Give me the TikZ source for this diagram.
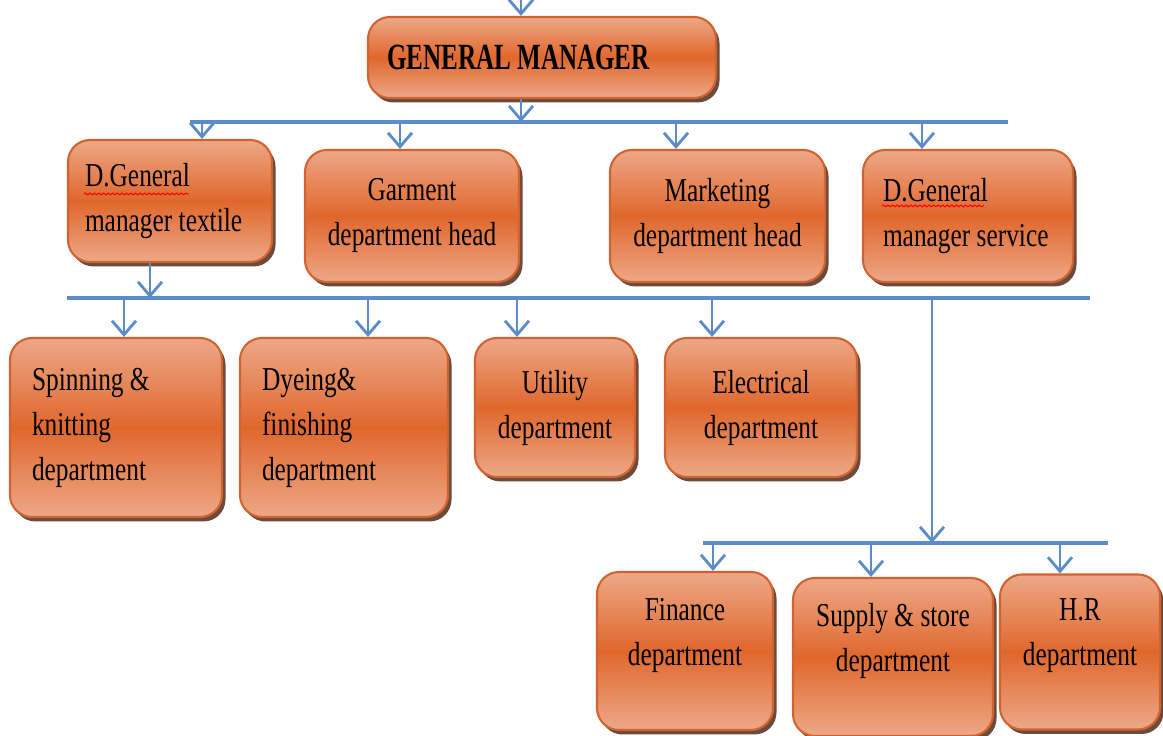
\documentclass[tikz,border=0pt]{standalone}
\usepackage{fontspec}
\setmainfont{Liberation Serif}[FakeStretch=0.76]
\newfontfamily\headfont{Liberation Serif}[FakeStretch=0.68]
\usetikzlibrary{shapes,
                arrows.meta,
                decorations.pathmorphing,
                positioning,
                shadows}
\definecolor{boxlight}{HTML}{EDA888}
\definecolor{boxdark}{HTML}{E0672C}
\definecolor{boxedge}{HTML}{D2622E}
\definecolor{linkblue}{HTML}{5B8BC8}
\tikzset{block/.style=
   {rectangle,
    draw=boxedge,
    line width=0.6pt,
    rounded corners=0.22cm,
    top color=boxlight,
    bottom color=boxlight,
    middle color=boxdark,
    drop shadow={shadow xshift=0.035cm,
                 shadow yshift=-0.045cm,
                 fill=black!70!boxdark,
                 opacity=0.8},
    font=\fontsize{9.5}{12.8}\selectfont,
    align=center}}
\tikzset{lblock/.style={block, align=flush left, inner xsep=0.22cm}}
\tikzset{arrow/.style = {draw=linkblue, line width=0.8pt,
    -{Straight Barb[length=0.14cm, width=0.24cm]}}}
\tikzset{bar/.style = {draw=linkblue, line width=1.3pt}}
\tikzset{spell/.style = {draw=red, line width=0.3pt, decorate,
    decoration={snake, amplitude=0.25pt, segment length=1.3pt}}}

\begin{document}
\begin{tikzpicture}[auto]

    \useasboundingbox (0,0) rectangle (11.63,7.36);

    % Blocks
    \node [block, align=flush left, text width=3.1cm, inner xsep=0.19cm,
           minimum height=0.81cm,
           font=\headfont\bfseries\fontsize{10.5}{12}\selectfont]
          (gm) at (5.42,6.785) {GENERAL MANAGER};

    \node [lblock, inner xsep=0.17cm, text width=1.70cm, minimum height=1.22cm]
          (dgmt) at (1.70,5.35) {D.General\\manager textile};
    \node [block, minimum width=2.14cm, minimum height=1.32cm,
           right of=dgmt, node distance=2.42cm, yshift=-0.15cm]
          (garment) {Garment\\department head};
    \node [block, minimum width=2.15cm, minimum height=1.32cm,
           right of=garment, node distance=3.055cm]
          (marketing) {Marketing\\department head};
    \node [lblock, inner xsep=0.20cm, text width=1.70cm, minimum height=1.32cm,
           right of=marketing, node distance=2.505cm]
          (dgms) {D.General\\manager service};

    \node [lblock, text width=1.68cm, minimum height=1.79cm]
          (spinning) at (1.16,3.085) {Spinning \&\\knitting\\department};
    \node [lblock, text width=1.64cm, minimum height=1.79cm,
           right of=spinning, node distance=2.28cm]
          (dyeing) {Dyeing\&\\finishing\\department};
    \node [block, minimum width=1.60cm, minimum height=1.39cm,
           right of=dyeing, node distance=2.11cm, yshift=0.2cm]
          (utility) {Utility\\department};
    \node [block, minimum width=1.92cm, minimum height=1.39cm,
           right of=utility, node distance=2.06cm]
          (electrical) {Electrical\\department};

    \node [block, minimum width=1.76cm, minimum height=1.58cm, text depth=0.39cm]
          (finance) at (6.85,0.85) {Finance\\department};
    \node [block, minimum width=2.00cm, minimum height=1.58cm, text depth=0.39cm,
           right of=finance, node distance=2.08cm, yshift=-0.06cm]
          (supply) {Supply \& store\\department};
    \node [block, minimum width=1.60cm, minimum height=1.55cm, text depth=0.39cm,
           right of=supply, node distance=1.87cm, yshift=0.05cm]
          (hr) {H.R\\department};

    % spell-check marks
    \path [spell] ([xshift=0.17cm, yshift=-0.55cm]dgmt.north west) -- ++(1.05,0);
    \path [spell] ([xshift=0.20cm, yshift=-0.57cm]dgms.north west) -- ++(1.02,0);

    % Bars
    \coordinate (bar1w) at (1.90,6.14);
    \coordinate (bar1e) at (10.08,6.14);
    \coordinate (bar2w) at (0.67,4.38);
    \coordinate (bar2e) at (10.90,4.38);
    \coordinate (bar3w) at (7.03,1.93);
    \coordinate (bar3e) at (11.08,1.93);

    \path [bar] (bar1w) -- (bar1e);
    \path [bar] (bar2w) -- (bar2e);
    \path [bar] (bar3w) -- (bar3e);

    % Draw edges
    \coordinate (feed) at (5.21,7.36);
    \coordinate (gmdrop) at (5.21,6.14);
    \coordinate (dtdrop) at (1.50,4.38);
    \coordinate (dsdrop) at (9.32,4.38);
    \coordinate (dsend) at (9.32,1.93);

    \path [arrow]
    (feed) -- (feed |- gm.north);

    \path [arrow]
    (gmdrop |- gm.south) -- (gmdrop);

    \coordinate (t1) at (2.02,6.14);
    \coordinate (t2) at (4.00,6.14);
    \coordinate (t3) at (6.76,6.14);
    \coordinate (t4) at (9.22,6.14);

    \path [arrow] (t1) -- (t1 |- dgmt.north);
    \path [arrow] (t2) -- (t2 |- garment.north);
    \path [arrow] (t3) -- (t3 |- marketing.north);
    \path [arrow] (t4) -- (t4 |- dgms.north);

    \path [arrow]
    (dtdrop |- dgmt.south) -- (dtdrop);

    \coordinate (d1) at (1.24,4.38);
    \coordinate (d2) at (3.68,4.38);
    \coordinate (d3) at (5.17,4.38);
    \coordinate (d4) at (7.12,4.38);

    \path [arrow] (d1) -- (d1 |- spinning.north);
    \path [arrow] (d2) -- (d2 |- dyeing.north);
    \path [arrow] (d3) -- (d3 |- utility.north);
    \path [arrow] (d4) -- (d4 |- electrical.north);

    \path [arrow]
    (dsdrop) -- (dsend);

    \coordinate (s1) at (7.13,1.93);
    \coordinate (s2) at (8.71,1.93);
    \coordinate (s3) at (10.60,1.93);

    \path [arrow] (s1) -- (s1 |- finance.north);
    \path [arrow] (s2) -- (s2 |- supply.north);
    \path [arrow] (s3) -- (s3 |- hr.north);

\end{tikzpicture}
\end{document}
